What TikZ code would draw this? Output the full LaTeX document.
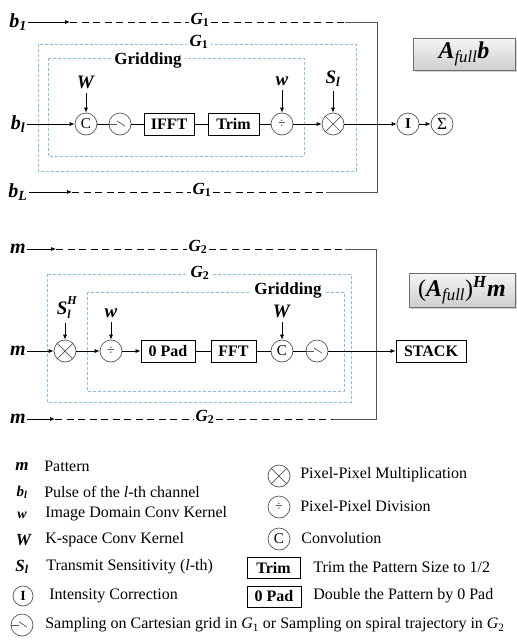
\documentclass[tikz,border=0pt]{standalone}
\usepackage{fontspec}
\setmainfont{Liberation Serif}
\usetikzlibrary{arrows.meta,shadows}
\definecolor{gridblue}{HTML}{8DBBE3}
\definecolor{wiregray}{HTML}{555555}
\definecolor{framegray}{HTML}{6E6E6E}

\newcommand{\setfs}[1]{\fontsize{#1}{#1}\selectfont}
\newcommand{\bfit}[1]{\textbf{\textit{#1}}}
\newcommand{\bisub}[2]{\bfit{#1}\textsubscript{\bfit{#2}}}
\newcommand{\gsub}[1]{\bfit{G}\textsubscript{\textbf{#1}}}

\tikzset{
  op/.style={circle,draw=wiregray,line width=0.7pt,minimum size=22pt,inner sep=0pt,font=\setfs{15}},
  mult/.style={op,path picture={
    \draw[wiregray,line width=0.7pt] (path picture bounding box.north west) -- (path picture bounding box.south east);
    \draw[wiregray,line width=0.7pt] (path picture bounding box.north east) -- (path picture bounding box.south west);}},
  samp/.style={op,path picture={
    \draw[wiregray,line width=0.7pt] ([xshift=-11pt]path picture bounding box.center) -- ([xshift=-3pt]path picture bounding box.center);
    \draw[wiregray,line width=0.7pt] ([xshift=-3pt,yshift=3pt]path picture bounding box.center) -- ([xshift=5pt,yshift=-2pt]path picture bounding box.center);}},
  blk/.style={draw,line width=0.8pt,minimum height=22pt,inner sep=2pt,font=\bfseries\setfs{16}},
  keybox/.style={draw,line width=0.8pt,minimum height=21pt,inner sep=2pt,font=\bfseries\setfs{16}},
  siglbl/.style={inner sep=1pt,font=\setfs{20}},
  kerlbl/.style={inner sep=1pt,font=\setfs{19}},
  glbl/.style={inner sep=1pt,font=\setfs{17}},
  gridline/.style={gridblue,line width=0.8pt,dash pattern=on 3pt off 2pt},
  gridlabel/.style={fill=white,inner sep=3pt,font=\setfs{17}},
  gdash/.style={line width=1pt,dash pattern=on 7pt off 4.5pt},
  titlebox/.style={draw=framegray,line width=0.8pt,top color=gray!8,bottom color=gray!38,
    drop shadow={shadow xshift=1.5pt,shadow yshift=-2pt,opacity=0.35},font=\setfs{24}},
  keysym/.style={inner sep=1pt,font=\setfs{17}},
  keytxt/.style={anchor=west,inner sep=0pt,font=\setfs{16}},
  kerarrow/.style={->,shorten <=3pt}
}

\begin{document}
\begin{tikzpicture}[x=1pt,y=-1pt,>={Latex[length=5pt,width=4pt]},line width=0.7pt]
  \useasboundingbox (0,0) rectangle (517,641);

  % forward operator
  \draw[gridline] (38,44) rectangle (356,171);
  \node[gridlabel] (g1frame) at (199,42) {\gsub{1}};
  \draw[gridline] (48,58) rectangle (304,156);
  \node[gridlabel] (grid1) at (148,60) {\textbf{Gridding}};

  \node[siglbl] (b1) at (18,22) {\bisub{b}{1}};
  \coordinate (b1end) at (70,22);
  \node[glbl] (g1top) at (200,20) {\gsub{1}};
  \coordinate (fA) at (345,22);
  \coordinate (fB) at (377,22);
  \coordinate (fC) at (377,192);
  \coordinate (fD) at (326,192);
  \draw[->] (b1) -- (b1end);
  \draw[gdash] (b1end) -- (b1end -| g1top.west);
  \draw[gdash] (g1top.east |- fA) -- (fA);
  \draw[wiregray] (fA) -- (fB) -- (fC) -- (fD);
  \node[siglbl] (bL) at (18,192) {\bisub{b}{L}};
  \coordinate (bLend) at (72,192);
  \node[glbl] (g1bot) at (202,190) {\gsub{1}};
  \draw[->] (bL) -- (bLend);
  \draw[gdash] (bLend) -- (bLend -| g1bot.west);
  \draw[gdash] (g1bot.east |- fD) -- (fD);

  \node[siglbl] (bl) at (18,124) {\bisub{b}{l}};
  \node[op] (conv1) at (86,124) {C};
  \node[samp] (samp1) at (120,124) {};
  \node[blk,minimum width=50pt] (ifft) at (169,124) {IFFT};
  \node[blk,minimum width=51pt] (trim) at (233.5,124) {Trim};
  \node[op,font=\setfs{13}] (div1) at (282,124) {÷};
  \node[mult] (mul1) at (333,124) {};
  \node[op,font=\bfseries\setfs{15}] (icor) at (408,124) {I};
  \node[op,font=\setfs{17}] (sum) at (442,124) {Σ};
  \node[kerlbl] (W1) at (86,82) {\bfit{W}};
  \node[kerlbl] (w1) at (282,81) {\bfit{w}};
  \node[kerlbl] (S1) at (333,79) {\bisub{S}{l}};
  \draw[->] (bl) -- (conv1);
  \draw (conv1) -- (samp1) -- (ifft) -- (trim) -- (div1);
  \draw[->] (div1) -- (mul1);
  \draw[->] (mul1) -- (icor);
  \draw[->] (icor) -- (sum);
  \draw[kerarrow] (W1) -- (conv1);
  \draw[kerarrow] (w1) -- (div1);
  \draw[kerarrow] (S1) -- (mul1);
  \node[titlebox,minimum width=102pt,minimum height=32pt] (fwdtitle) at (464,54)
    {\bfit{A}\textsubscript{\textit{full}}\bfit{b}};

  % adjoint operator
  \draw[gridline] (47,274) rectangle (351,402);
  \node[gridlabel] (g2frame) at (200,273) {\gsub{2}};
  \draw[gridline] (87,292) rectangle (344,391);
  \node[gridlabel] (grid2) at (288,290) {\textbf{Gridding}};

  \node[siglbl] (m1) at (18,249) {\bfit{m}};
  \coordinate (m1end) at (56,249);
  \node[glbl] (g2top) at (198,247) {\gsub{2}};
  \coordinate (aA) at (345,249);
  \coordinate (aB) at (376,249);
  \coordinate (aC) at (376,419);
  \coordinate (aD) at (333,419);
  \draw[->] (m1) -- (m1end);
  \draw[gdash] (m1end) -- (m1end -| g2top.west);
  \draw[gdash] (g2top.east |- aA) -- (aA);
  \draw[wiregray] (aA) -- (aB) -- (aC) -- (aD);
  \node[siglbl] (m3) at (18,419) {\bfit{m}};
  \coordinate (m3end) at (55,419);
  \node[glbl] (g2bot) at (205,417) {\gsub{2}};
  \draw[->] (m3) -- (m3end);
  \draw[gdash] (m3end) -- (m3end -| g2bot.west);
  \draw[gdash] (g2bot.east |- aD) -- (aD);

  \node[siglbl] (m2) at (18,351) {\bfit{m}};
  \node[mult] (mul2) at (65,351) {};
  \node[op,font=\setfs{13}] (div2) at (111,351) {÷};
  \node[blk,minimum width=54pt] (pad) at (168,351) {0 Pad};
  \node[blk,minimum width=45pt] (fft) at (233.5,351) {FFT};
  \node[op] (conv2) at (282,351) {C};
  \node[samp] (samp2) at (317,351) {};
  \node[blk,minimum width=70pt] (stack) at (431,351) {STACK};
  \node[kerlbl] (S2) at (67,308) {\bfit{S}\rlap{\raisebox{-0.5ex}{\setfs{12}\bfit{l}}}\raisebox{1.1ex}{\setfs{12}\bfit{H}}};
  \node[kerlbl] (w2) at (111,313) {\bfit{w}};
  \node[kerlbl] (W2) at (282,311) {\bfit{W}};
  \draw[->] (m2) -- (mul2);
  \draw[->] (mul2) -- (div2);
  \draw[->] (div2) -- (pad);
  \draw (pad) -- (fft) -- (conv2) -- (samp2);
  \draw[->] (samp2) -- (stack);
  \draw[kerarrow] (S2.south -| mul2) -- (mul2);
  \draw[kerarrow] (w2) -- (div2);
  \draw[kerarrow] (W2) -- (conv2);
  \node[titlebox,minimum width=106pt,minimum height=34pt] (adjtitle) at (462,290)
    {(\bfit{A}\textsubscript{\textit{full}})\textsuperscript{\bfit{H}}\bfit{m}};

  % legend
  \node[keysym] (km) at (22,466) {\bfit{m}};
  \node[keytxt] (kmtxt) at (44,466) {Pattern};
  \node[keysym,font=\setfs{15}] (kb) at (22,492) {\bisub{b}{l}};
  \node[keytxt] (kbtxt) at (44,492) {Pulse of the \textit{l}-th channel};
  \node[keysym,font=\setfs{14}] (kw) at (22,515) {\bfit{w}};
  \node[keytxt] (kwtxt) at (45,514) {Image Domain Conv Kernel};
  \node[keysym] (kW) at (24,540) {\bfit{W}};
  \node[keytxt] (kWtxt) at (45,540) {K-space Conv Kernel};
  \node[keysym] (kS) at (22,567) {\bisub{S}{l}};
  \node[keytxt] (kStxt) at (46,567) {Transmit Sensitivity (\textit{l}-th)};
  \node[op,minimum size=20pt,font=\bfseries\setfs{14}] (kI) at (23,596) {I};
  \node[keytxt] (kItxt) at (49,596) {Intensity Correction};
  \node[samp] (ksamp) at (22,625) {};
  \node[keytxt] (ksamptxt) at (45,625) {Sampling on Cartesian grid in \textit{G}\textsubscript{1} or Sampling on spiral trajectory in \textit{G}\textsubscript{2}};
  \node[mult] (kmul) at (279,476) {};
  \node[keytxt] (kmultxt) at (300,475) {Pixel-Pixel Multiplication};
  \node[op,font=\setfs{13}] (kdiv) at (279,507) {÷};
  \node[keytxt] (kdivtxt) at (300,506) {Pixel-Pixel Division};
  \node[op] (kconv) at (279,539) {C};
  \node[keytxt] (kconvtxt) at (301,538) {Convolution};
  \node[keybox,minimum width=53pt] (ktrim) at (273.5,567.5) {Trim};
  \node[keytxt] (ktrimtxt) at (313,567) {Trim the Pattern Size to 1/2};
  \node[keybox,minimum width=54pt] (kpad) at (274,596.5) {0 Pad};
  \node[keytxt] (kpadtxt) at (313,596) {Double the Pattern by 0 Pad};
\end{tikzpicture}
\end{document}
